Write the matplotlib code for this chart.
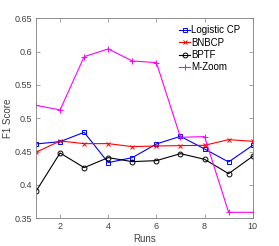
import matplotlib
matplotlib.use("Agg")
import matplotlib.pyplot as plt

runs = [1, 2, 3, 4, 5, 6, 7, 8, 9, 10]
logistic_cp = [0.4615, 0.465, 0.479, 0.4335, 0.441, 0.4615, 0.473, 0.454, 0.4345, 0.4595]
bnbcp = [0.449, 0.466, 0.462, 0.462, 0.4575, 0.4585, 0.459, 0.4595, 0.468, 0.4655]
bptf = [0.3905, 0.448, 0.426, 0.441, 0.435, 0.4365, 0.447, 0.4385, 0.417, 0.443]
mzoom = [0.5195, 0.5125, 0.5925, 0.604, 0.586, 0.5835, 0.4715, 0.4725, 0.359, 0.359]

plt.rcParams['font.family'] = ['Liberation Sans', 'DejaVu Sans']
txt = '#404040'
fig = plt.figure(figsize=(2.79, 2.46), dpi=100)
ax = fig.add_axes([36/279, 1 - 218.3/246, (252.7-36)/279, (218.3-18.3)/246])

lw = 0.8
ax.plot(runs, logistic_cp, color='#0000ff', marker='s', ms=3.5, mfc='none', mew=0.7, lw=lw, label='Logistic CP')
ax.plot(runs, bnbcp, color='#ff0000', marker='x', ms=2.5, mew=0.7, lw=lw, label='BNBCP')
ax.plot(runs, bptf, color='#000000', marker='o', ms=3.5, mfc='none', mew=0.7, lw=lw, label='BPTF')
ax.plot(runs, mzoom, color='#ff00ff', marker='+', ms=4.5, mew=0.7, lw=lw, label='M-Zoom')

ax.set_xlim(1, 10)
ax.set_ylim(0.35, 0.65)
ax.set_xticks([2, 4, 6, 8, 10])
ax.set_yticks([0.35, 0.4, 0.45, 0.5, 0.55, 0.6, 0.65])
ax.set_yticklabels(['0.35', '0.4', '0.45', '0.5', '0.55', '0.6', '0.65'])
ax.tick_params(direction='in', length=3, width=0.5, colors='#808080', labelcolor=txt,
               labelsize=6.5, top=True, right=True, pad=3)
for s in ax.spines.values():
    s.set_color('#808080')
    s.set_linewidth(0.6)
ax.set_xlabel('Runs', fontsize=7, color=txt, labelpad=2)
ax.set_ylabel('F1 Score', fontsize=7, color=txt, labelpad=1)
leg = ax.legend(loc='upper right', frameon=False, fontsize=7, handlelength=1.2,
                handletextpad=0.1, labelspacing=0.25, borderaxespad=0.3,
                bbox_to_anchor=(0.975, 1.0))
for t in leg.get_texts():
    t.set_color('#000000')

fig.savefig('out.png', dpi=100)
